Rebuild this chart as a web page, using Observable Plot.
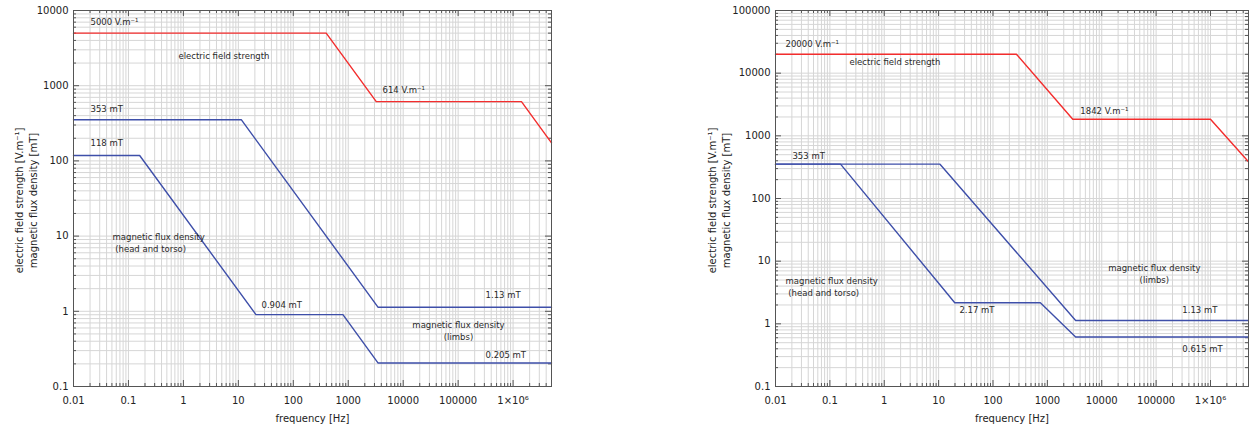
<!DOCTYPE html>
<html>
<head>
<meta charset="utf-8">
<script src="https://cdn.jsdelivr.net/npm/d3@7"></script>
<script src="https://cdn.jsdelivr.net/npm/@observablehq/plot@0.6"></script>
<style>
  body { margin: 0; background: #fff; }
  #wrap { position: relative; width: 1249px; height: 431px; overflow: hidden; }
  #left, #right { position: absolute; top: 0; }
  #left { left: 0; }
  #right { left: 690px; }
</style>
</head>
<body>
<div id="wrap"><div id="left"></div><div id="right"></div></div>
<script>
// Shared axis setup
const freqDomain = [0.01, 5e6];
const xTicks = [0.01, 0.1, 1, 10, 100, 1000, 10000, 100000, 1e6];
const xTickLabels = ["0.01", "0.1", "1", "10", "100", "1000", "10000", "100000", "1×10⁶"];
const xTitle = "frequency [Hz]";
const yTitle = "electric field strength [V.m⁻¹]\nmagnetic flux density [mT]";

// Left panel
const leftYDomain = [0.1, 10000];
const leftYTicks = [0.1, 1, 10, 100, 1000, 10000];
const leftYTickLabels = ["0.1", "1", "10", "100", "1000", "10000"];

const leftElectricFreq = [0.01, 397, 3233, 1.42e6, 5e6];
const leftElectricVal = [5000, 5000, 614, 614, 174];
const leftLimbsFreq = [0.01, 11.3, 3500, 5e6];
const leftLimbsVal = [353, 353, 1.13, 1.13];
const leftHeadFreq = [0.01, 0.16, 20.9, 800, 3500, 5e6];
const leftHeadVal = [118, 118, 0.904, 0.904, 0.205, 0.205];

const leftNoteText = ["5000 V.m⁻¹", "electric field strength", "353 mT", "118 mT", "614 V.m⁻¹",
  "magnetic flux density\n\u00a0(head and torso)", "0.904 mT", "1.13 mT",
  "magnetic flux density\n(limbs)", "0.205 mT"];
const leftNoteFreq = [0.0204, 0.815, 0.0204, 0.0204, 4200, 0.0513, 26.4, 315000, 101400, 315000];
const leftNoteVal = [7140, 2523, 498, 176, 889, 8.22, 1.23, 1.67, 0.556, 0.267];
const leftNoteAnchor = ["start", "start", "start", "start", "start", "start", "start", "start", "middle", "start"];

// Right panel
const rightYDomain = [0.1, 100000];
const rightYTicks = [0.1, 1, 10, 100, 1000, 10000, 100000];
const rightYTickLabels = ["0.1", "1", "10", "100", "1000", "10000", "100000"];

const rightElectricFreq = [0.01, 270, 2930, 1e6, 5e6];
const rightElectricVal = [20000, 20000, 1842, 1842, 385];
const rightLimbsFreq = [0.01, 10.6, 3310, 5e6];
const rightLimbsVal = [353, 353, 1.13, 1.13];
const rightHeadFreq = [0.01, 0.157, 19.8, 743, 3310, 5e6];
const rightHeadVal = [353, 353, 2.17, 2.17, 0.615, 0.615];

const rightNoteText = ["20000 V.m⁻¹", "electric field strength", "353 mT", "1842 V.m⁻¹",
  "magnetic flux density\n\u00a0(head and torso)", "2.17 mT",
  "magnetic flux density\n(limbs)", "1.13 mT", "0.615 mT"];
const rightNoteFreq = [0.0153, 0.229, 0.0205, 4045, 0.0153, 24.1, 92700, 303000, 303000];
const rightNoteVal = [29800, 15400, 486, 2540, 3.96, 1.70, 6.38, 1.70, 0.406];
const rightNoteAnchor = ["start", "start", "start", "start", "start", "start", "middle", "start", "start"];

const RED = "#f32d2d";
const BLUE = "#3e4fa9";
const GRID = "#d6d6d6";
const TICK = "#555";

// 1..9 × 10^n grid positions inside a log domain
function logGrid([lo, hi]) {
  const out = [];
  for (let e = Math.floor(Math.log10(lo)); e <= Math.ceil(Math.log10(hi)); e++) {
    for (let k = 1; k <= 9; k++) {
      const v = +(k * Math.pow(10, e)).toPrecision(6);
      if (v >= lo * 0.9999 && v <= hi * 1.0001) out.push(v);
    }
  }
  return out;
}
const isDecade = v => Math.abs(Math.log10(v) - Math.round(Math.log10(v))) < 1e-9;

function toPoints(fs, vs) { return fs.map((f, i) => ({f, v: vs[i]})); }

function panel({width, marginLeft, marginRight, yDomain, yTicks, yTickLabels, series, notes, titleDx}) {
  const height = 431, marginTop = 10, marginBottom = 45;
  const plotH = height - marginTop - marginBottom;
  const plotW = width - marginLeft - marginRight;
  const xs = logGrid(freqDomain), ys = logGrid(yDomain);
  const xMajor = xs.filter(isDecade), xMinor = xs.filter(v => !isDecade(v));
  const yMajor = ys.filter(isDecade), yMinor = ys.filter(v => !isDecade(v));
  const xFmt = new Map(xTicks.map((t, i) => [t, xTickLabels[i]]));
  const yFmt = new Map(yTicks.map((t, i) => [t, yTickLabels[i]]));
  const noteStyle = {x: "f", y: "v", text: "text", fontSize: 8.5, fill: "#2a2a2a", lineHeight: 1.4};

  return Plot.plot({
    width, height, marginTop, marginBottom, marginLeft, marginRight,
    style: {fontFamily: "'DejaVu Sans', Verdana, sans-serif", fontSize: "10px", color: "#222", background: "#fff"},
    x: {type: "log", domain: freqDomain},
    y: {type: "log", domain: yDomain},
    marks: [
      Plot.ruleX(xs, {x: d => d, stroke: GRID, strokeWidth: 1}),
      Plot.ruleY(ys, {y: d => d, stroke: GRID, strokeWidth: 1}),
      // inward ticks on all four sides
      Plot.tickX(xMajor, {x: d => d, insetTop: plotH - 6, stroke: TICK}),
      Plot.tickX(xMinor, {x: d => d, insetTop: plotH - 3, stroke: TICK}),
      Plot.tickX(xMajor, {x: d => d, insetBottom: plotH - 6, stroke: TICK}),
      Plot.tickX(xMinor, {x: d => d, insetBottom: plotH - 3, stroke: TICK}),
      Plot.tickY(yMajor, {y: d => d, insetRight: plotW - 6, stroke: TICK}),
      Plot.tickY(yMinor, {y: d => d, insetRight: plotW - 3, stroke: TICK}),
      Plot.tickY(yMajor, {y: d => d, insetLeft: plotW - 6, stroke: TICK}),
      Plot.tickY(yMinor, {y: d => d, insetLeft: plotW - 3, stroke: TICK}),
      ...series.map(s => Plot.line(s.points, {x: "f", y: "v", stroke: s.color, strokeWidth: 1.4})),
      Plot.frame({stroke: "#555", strokeWidth: 1}),
      Plot.axisX({ticks: xTicks, tickFormat: d => xFmt.get(d), tickSize: 0, tickPadding: 10, fontSize: 10, fill: "#222", label: null}),
      Plot.axisY({ticks: yTicks, tickFormat: d => yFmt.get(d), tickSize: 0, tickPadding: 5, fontSize: 10, fill: "#222", label: null}),
      Plot.text(notes.filter(d => d.anchor === "start"), {...noteStyle, textAnchor: "start"}),
      Plot.text(notes.filter(d => d.anchor === "middle"), {...noteStyle, textAnchor: "middle"}),
      Plot.text([xTitle], {text: d => d, frameAnchor: "bottom", lineAnchor: "middle", dy: 32, fontSize: 10, fill: "#222"}),
      Plot.text([yTitle], {text: d => d, frameAnchor: "left", textAnchor: "middle", lineAnchor: "middle", rotate: -90, dx: titleDx, dy: 2, fontSize: 10, fill: "#222", lineHeight: 1.35})
    ]
  });
}

const mkNotes = (t, f, v, a) => t.map((text, i) => ({text, f: f[i], v: v[i], anchor: a[i]}));

document.getElementById("left").append(panel({
  width: 560, marginLeft: 73, marginRight: 9,
  yDomain: leftYDomain, yTicks: leftYTicks, yTickLabels: leftYTickLabels,
  series: [
    {points: toPoints(leftElectricFreq, leftElectricVal), color: RED},
    {points: toPoints(leftLimbsFreq, leftLimbsVal), color: BLUE},
    {points: toPoints(leftHeadFreq, leftHeadVal), color: BLUE}
  ],
  notes: mkNotes(leftNoteText, leftNoteFreq, leftNoteVal, leftNoteAnchor),
  titleDx: -48
}));

document.getElementById("right").append(panel({
  width: 559, marginLeft: 85, marginRight: 1,
  yDomain: rightYDomain, yTicks: rightYTicks, yTickLabels: rightYTickLabels,
  series: [
    {points: toPoints(rightElectricFreq, rightElectricVal), color: RED},
    {points: toPoints(rightLimbsFreq, rightLimbsVal), color: BLUE},
    {points: toPoints(rightHeadFreq, rightHeadVal), color: BLUE}
  ],
  notes: mkNotes(rightNoteText, rightNoteFreq, rightNoteVal, rightNoteAnchor),
  titleDx: -57
}));
</script>
</body>
</html>
